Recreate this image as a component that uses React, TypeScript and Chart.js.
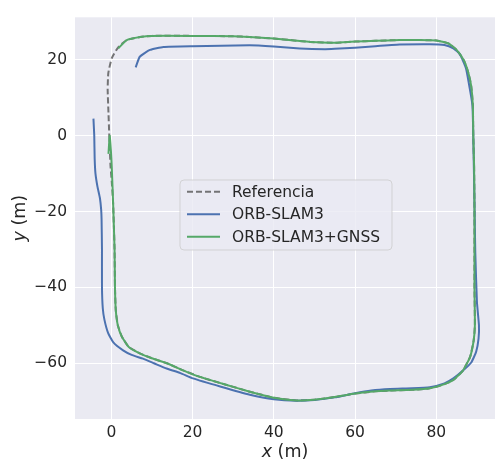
import React, { useEffect, useRef } from "react";
import { Chart, registerables } from "chart.js";

Chart.register(...registerables);

// ---- Data ----
const refX = [-0.5, -0.2, 0.1, 0.45, 0.8, 0.9, 1.1, 1.6, 2.6, 4.3, 7.0, 10.0, 13.7, 17.5, 21.8, 28.0, 34.1, 40.0, 45.6, 50.0, 55.0, 60.0, 65.0, 68.6, 74.0, 78.4, 82.0, 84.2, 86.5, 88.3, 89.2, 89.5, 89.4, 89.4, 89.3, 89.1, 89.0, 88.6, 87.9, 86.8, 85.0, 83.0, 80.0, 75.0, 71.0, 65.0, 60.0, 55.0, 49.0, 45.0, 40.0, 34.0, 30.0, 20.0, 10.0, 7.1, 3.8, 1.7, 0.1, -0.74, -0.9, -0.7, -0.5];
const refY = [0.0, -8.0, -12.0, -18.0, -30.0, -40.0, -46.0, -50.0, -53.0, -55.7, -57.4, -58.7, -60.0, -61.8, -63.6, -65.6, -67.5, -69.1, -69.8, -69.6, -68.9, -68.0, -67.4, -67.2, -67.0, -66.6, -65.5, -64.4, -62.0, -58.4, -54.0, -50.0, -40.0, -20.0, -7.6, 0.0, 7.9, 13.0, 16.5, 19.8, 22.6, 24.3, 25.1, 25.2, 25.2, 25.0, 24.8, 24.5, 24.7, 25.1, 25.6, 26.0, 26.2, 26.3, 26.3, 26.0, 25.2, 23.3, 20.4, 16.5, 12.2, 6.0, 0.0];

const orbX = [-4.4, -4.2, -4.1, -3.9, -3.4, -2.8, -2.5, -2.4, -2.3, -2.3, -2.1, -1.7, -0.8, 0.5, 2.9, 5.0, 7.8, 10.5, 13.6, 17.0, 20.1, 27.0, 34.1, 40.0, 45.6, 50.0, 55.0, 60.0, 64.0, 68.6, 74.0, 78.4, 82.0, 84.2, 86.5, 88.6, 89.8, 90.4, 90.5, 90.0, 89.6, 89.4, 89.1, 88.9, 88.4, 87.3, 85.8, 84.2, 82.0, 78.4, 71.0, 65.0, 60.0, 55.0, 52.6, 46.4, 40.0, 34.0, 20.0, 12.8, 9.5, 7.0, 6.0];
const orbY = [4.5, 0.0, -6.0, -10.0, -13.5, -16.5, -19.5, -22.0, -30.0, -40.0, -45.5, -48.5, -52.0, -54.5, -56.6, -57.8, -58.8, -60.0, -61.4, -62.6, -64.0, -66.2, -68.3, -69.5, -69.9, -69.7, -69.0, -67.9, -67.2, -66.8, -66.6, -66.3, -65.3, -64.0, -62.0, -59.8, -57.0, -53.5, -50.0, -43.8, -30.9, -18.0, 0.0, 7.9, 11.4, 17.8, 21.5, 23.0, 23.9, 24.1, 24.0, 23.6, 23.2, 22.9, 22.8, 23.0, 23.5, 23.8, 23.6, 23.4, 22.6, 20.8, 18.0];

const gnssX = [-0.7, -0.4, -0.1, 0.1, 0.45, 0.8, 0.9, 1.1, 1.6, 2.6, 4.3, 7.0, 10.0, 13.7, 17.5, 21.8, 28.0, 34.1, 40.0, 45.6, 50.0, 55.0, 60.0, 65.0, 68.6, 74.0, 78.4, 82.0, 84.2, 86.5, 88.3, 89.2, 89.5, 89.4, 89.4, 89.3, 89.1, 89.0, 88.6, 87.9, 86.8, 85.0, 83.0, 80.0, 75.0, 71.0, 65.0, 60.0, 55.0, 49.0, 45.0, 40.0, 34.0, 30.0, 20.0, 10.0, 7.1, 3.8, 1.7];
const gnssY = [-4.8, 0.0, -4.0, -8.0, -18.0, -30.0, -40.0, -46.0, -50.0, -53.0, -55.7, -57.4, -58.7, -60.0, -61.8, -63.6, -65.6, -67.5, -69.1, -69.8, -69.6, -68.9, -68.0, -67.4, -67.2, -67.0, -66.6, -65.5, -64.4, -62.0, -58.4, -54.0, -50.0, -40.0, -20.0, -7.6, 0.0, 7.9, 13.0, 16.5, 19.8, 22.6, 24.3, 25.1, 25.2, 25.2, 25.0, 24.8, 24.5, 24.7, 25.1, 25.6, 26.0, 26.2, 26.3, 26.3, 26.0, 25.2, 23.0];

const xTicks = [0, 20, 40, 60, 80];
const yTicks = [-60, -40, -20, 0, 20];

const labels = ["Referencia", "ORB-SLAM3", "ORB-SLAM3+GNSS"];
const colors = ["rgba(85,85,85,0.8)", "#4C72B0", "#55A868"];

const FONT = "'DejaVu Sans', sans-serif";
const TEXT = "#262626";

const zip = (xs: number[], ys: number[]) => xs.map((x, i) => ({ x, y: ys[i] }));
const fmt = (v: number) => (v < 0 ? "\u2212" + Math.abs(v) : String(v));

const bgPlugin = {
  id: "bg",
  beforeDraw(chart: any) {
    const { ctx, chartArea: a } = chart;
    ctx.save();
    ctx.fillStyle = "#EAEAF2";
    ctx.fillRect(a.left, a.top, a.right - a.left, a.bottom - a.top);
    ctx.restore();
  },
};

const overlayPlugin = {
  id: "overlay",
  afterDraw(chart: any) {
    const { ctx, chartArea: a } = chart;
    ctx.save();
    const fs = 17.5;
    ctx.fillStyle = TEXT;
    ctx.textBaseline = "middle";
    const drawTitle = (v: string, cx: number, cy: number, rot: number) => {
      ctx.save();
      ctx.translate(cx, cy);
      ctx.rotate(rot);
      ctx.font = `italic ${fs}px ${FONT}`;
      const w1 = ctx.measureText(v).width;
      ctx.font = `${fs}px ${FONT}`;
      const rest = " (m)";
      const w2 = ctx.measureText(rest).width;
      const start = -(w1 + w2) / 2;
      ctx.textAlign = "left";
      ctx.font = `italic ${fs}px ${FONT}`;
      ctx.fillText(v, start, 0);
      ctx.font = `${fs}px ${FONT}`;
      ctx.fillText(rest, start + w1, 0);
      ctx.restore();
    };
    drawTitle("x", (a.left + a.right) / 2, 452.5, 0);
    drawTitle("y", 20, (a.top + a.bottom) / 2, -Math.PI / 2);

    // legend
    const lx = 180, ly = 180, lw = 212, lh = 70, r = 4;
    ctx.beginPath();
    ctx.moveTo(lx + r, ly);
    ctx.arcTo(lx + lw, ly, lx + lw, ly + lh, r);
    ctx.arcTo(lx + lw, ly + lh, lx, ly + lh, r);
    ctx.arcTo(lx, ly + lh, lx, ly, r);
    ctx.arcTo(lx, ly, lx + lw, ly, r);
    ctx.closePath();
    ctx.fillStyle = "rgba(234,234,242,0.8)";
    ctx.fill();
    ctx.strokeStyle = "rgba(204,204,204,0.8)";
    ctx.lineWidth = 1;
    ctx.stroke();
    const rows = [191.7, 214.3, 236.7];
    ctx.font = `15.5px ${FONT}`;
    ctx.textAlign = "left";
    ctx.textBaseline = "middle";
    labels.forEach((lab, i) => {
      ctx.beginPath();
      ctx.setLineDash(i === 0 ? [6, 3] : []);
      ctx.strokeStyle = colors[i];
      ctx.lineWidth = 2;
      ctx.moveTo(187, rows[i]);
      ctx.lineTo(220, rows[i]);
      ctx.stroke();
      ctx.setLineDash([]);
      ctx.fillStyle = TEXT;
      ctx.fillText(lab, 232, rows[i] + 1);
    });
    ctx.restore();
  },
};

export default function App() {
  const ref = useRef<HTMLCanvasElement | null>(null);
  useEffect(() => {
    if (!ref.current) return;
    const chart = new Chart(ref.current, {
      type: "scatter",
      data: {
        datasets: [
          {
            label: labels[0],
            data: zip(refX, refY),
            showLine: true,
            borderColor: colors[0],
            borderWidth: 2,
            borderDash: [6, 3],
            pointRadius: 0,
            tension: 0.15,
            order: 3,
          },
          {
            label: labels[1],
            data: zip(orbX, orbY),
            showLine: true,
            borderColor: colors[1],
            borderWidth: 2,
            pointRadius: 0,
            tension: 0.15,
            order: 2,
          },
          {
            label: labels[2],
            data: zip(gnssX, gnssY),
            showLine: true,
            borderColor: colors[2],
            borderWidth: 2,
            pointRadius: 0,
            tension: 0.15,
            order: 1,
          },
        ],
      },
      options: {
        animation: false,
        responsive: false,
        devicePixelRatio: 1,
        layout: { padding: { top: 10, right: 0, left: 0, bottom: 0 } },
        plugins: { legend: { display: false }, tooltip: { enabled: false } },
        scales: {
          x: {
            type: "linear",
            min: -8.94,
            max: 94.45,
            afterBuildTicks: (s: any) => {
              s.ticks = xTicks.map((v) => ({ value: v }));
            },
            afterFit: (s: any) => {
              s.height = 43;
            },
            grid: { color: "#ffffff", lineWidth: 1, drawTicks: false },
            border: { display: false },
            ticks: {
              padding: 5,
              color: TEXT,
              font: { family: FONT, size: 15.5 },
              callback: (v: any) => fmt(Number(v)),
            },
          },
          y: {
            type: "linear",
            min: -74.7,
            max: 31.2,
            afterBuildTicks: (s: any) => {
              s.ticks = yTicks.map((v) => ({ value: v }));
            },
            afterFit: (s: any) => {
              s.width = 75;
            },
            grid: { color: "#ffffff", lineWidth: 1, drawTicks: false },
            border: { display: false },
            ticks: {
              padding: 8,
              color: TEXT,
              font: { family: FONT, size: 15.5 },
              callback: (v: any) => fmt(Number(v)),
            },
          },
        },
      },
      plugins: [bgPlugin, overlayPlugin],
    } as any);
    return () => chart.destroy();
  }, []);
  return (
    <div style={{ position: "absolute", left: 0, top: 0, width: 495, height: 462, background: "#fff" }}>
      <canvas ref={ref} width={495} height={462} style={{ display: "block" }} />
    </div>
  );
}
